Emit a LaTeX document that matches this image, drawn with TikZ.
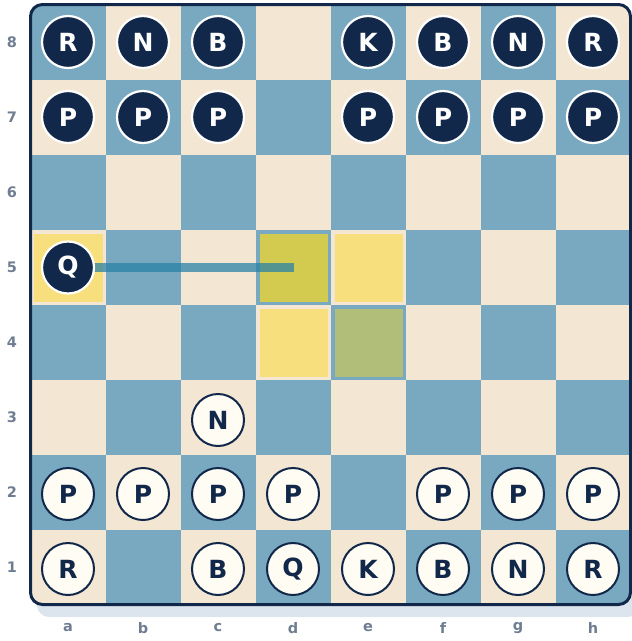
\documentclass[tikz,border=0pt]{standalone}
\usepackage{fontspec}
\setmainfont{DejaVu Sans}
\newfontfamily\piecefam{DejaVu Sans}
\definecolor{navy}{HTML}{12284A}
\definecolor{ivory}{HTML}{FFFCF3}
\definecolor{lightsq}{HTML}{F3E7D4}
\definecolor{darksq}{HTML}{79A9C0}
\definecolor{hlyellow}{HTML}{F7DF7E}
\definecolor{hlgold}{HTML}{D3CA50}
\definecolor{hlgreen}{HTML}{B1BE79}
\definecolor{shadowc}{HTML}{DCE5ED}
\definecolor{lblgrey}{HTML}{6E7D92}
\definecolor{arrowc}{HTML}{2A82A6}
\begin{document}
\begin{tikzpicture}[x=1pt,y=-1pt,
  bpiece/.style={circle, fill=navy, draw=white, line width=2.2pt, minimum size=52pt, inner sep=0pt, text=white, font=\piecefam\bfseries\fontsize{25}{25}\selectfont},
  wpiece/.style={circle, fill=ivory, draw=navy, line width=2pt, minimum size=52pt, inner sep=0pt, text=navy, font=\piecefam\bfseries\fontsize{25}{25}\selectfont},
  lbl/.style={text=lblgrey, inner sep=0pt, font=\bfseries\fontsize{14.5}{14.5}\selectfont},
  movearrow/.style={draw=arrowc, draw opacity=0.75, line width=8.5pt}]
\useasboundingbox (0,0) rectangle (632,641);
% shadow
\begin{scope}
\clip (0,0) rectangle (632,641);
\fill[shadowc, rounded corners=12pt] (37,14) rectangle (640,617);
\end{scope}
% squares
\begin{scope}
\clip[rounded corners=12pt] (30.5,4.5) rectangle (630.5,604.5);
\foreach \f in {0,...,7}{
  \foreach \r in {1,...,8}{
    \pgfmathtruncatemacro\s{\f+\r}
    \ifodd\s\def\sqc{lightsq}\else\def\sqc{darksq}\fi
    \fill[\sqc] (30.5+75*\f,4.5+75*8-75*\r) rectangle ++(75,75);
  }
}
\end{scope}
% highlights
\fill[hlyellow] (34,233.5) rectangle (102.5,301.5);
\fill[hlgold]   (259.5,233.5) rectangle ++(68,68);
\fill[hlyellow] (334.5,233.5) rectangle ++(68,68);
\fill[hlyellow] (259.5,308.5) rectangle ++(68,68);
\fill[hlgreen]  (334.5,308.5) rectangle ++(68,68);
% border
\draw[navy, line width=3pt, rounded corners=12pt] (30.5,4.5) rectangle (630.5,604.5);
% arrow
\coordinate (a5c) at (68,267.5);
\coordinate (d5c) at (294,267.5);
\draw[movearrow] (a5c) -- (d5c);
% labels
\foreach \r in {1,...,8}{
  \node[lbl] (rank\r) at (12,4.5+75*8-75*\r+37.5) {\r};
}
\foreach \f/\n in {0/a,1/b,2/c,3/d,4/e,5/f,6/g,7/h}{
  \node[lbl] (file\n) at (30.5+75*\f+37.5,628) {\n};
}
% black pieces
\foreach \f/\p in {0/R,1/N,2/B,4/K,5/B,6/N,7/R}{
  \node[bpiece] (b8\f) at (68+75*\f,42) {\p};
}
\foreach \f in {0,1,2,4,5,6,7}{
  \node[bpiece] (b7\f) at (68+75*\f,117) {P};
}
\node[bpiece] (bq) at (a5c) {Q};
% white pieces
\node[wpiece] (wn3) at (218,420) {N};
\foreach \f in {0,1,2,3,5,6,7}{
  \node[wpiece] (w2\f) at (68+75*\f,494) {P};
}
\foreach \f/\p in {0/R,2/B,3/Q,4/K,5/B,6/N,7/R}{
  \node[wpiece] (w1\f) at (68+75*\f,569) {\p};
}
\end{tikzpicture}
\end{document}
